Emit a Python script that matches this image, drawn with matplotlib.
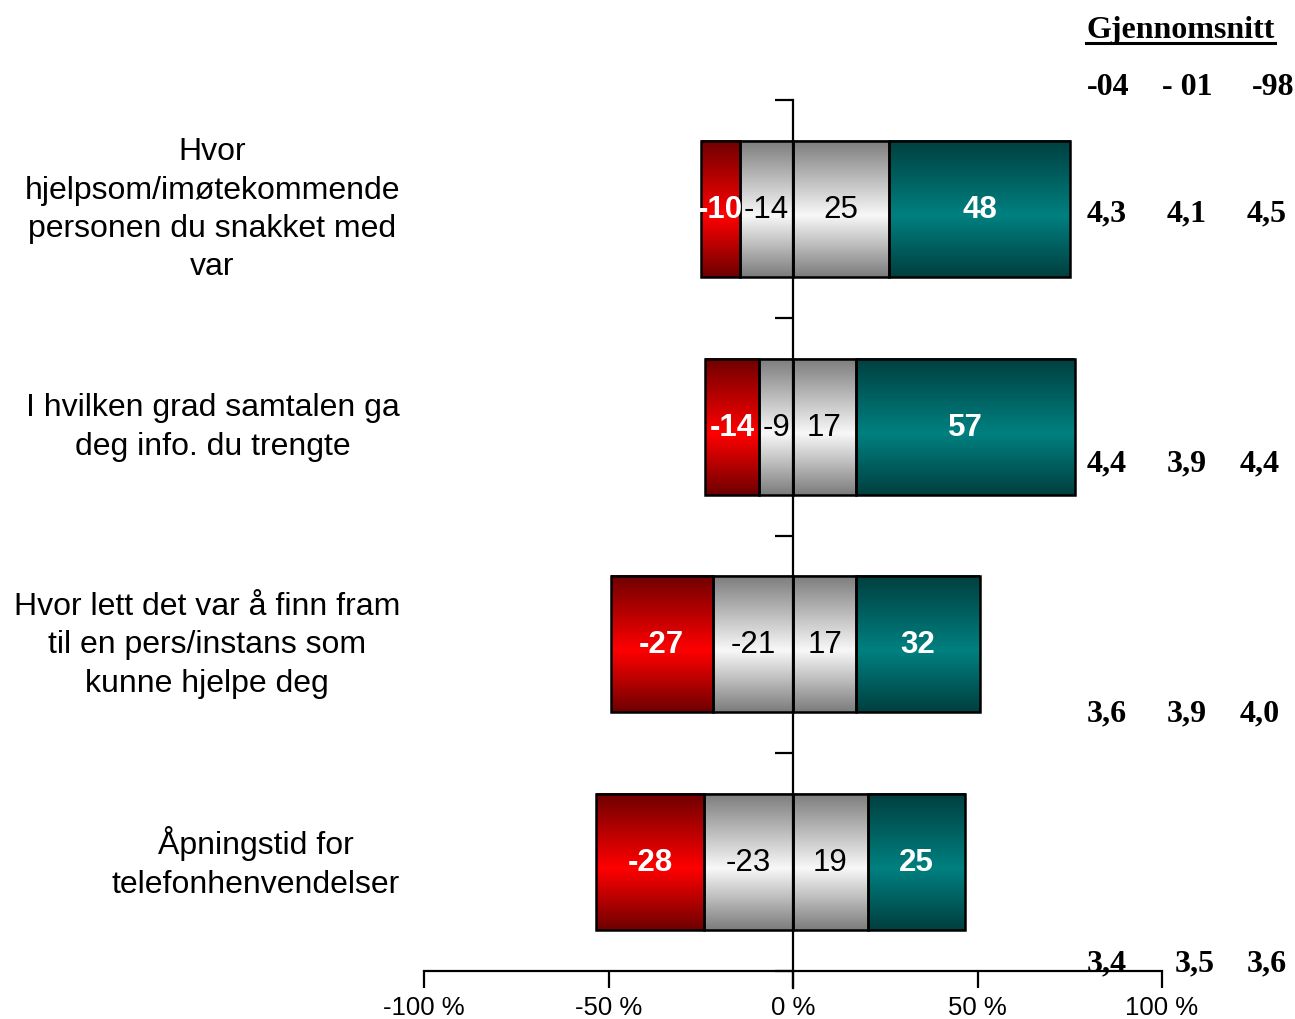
import numpy as np
import matplotlib.pyplot as plt
import matplotlib.transforms as mtransforms
from matplotlib.colors import LinearSegmentedColormap
from matplotlib.lines import Line2D


plt.rcParams["font.family"] = ["Liberation Sans", "DejaVu Sans"]

categories = [
    "Hvor\nhjelpsom/imøtekommende\npersonen du snakket med\nvar",
    "I hvilken grad samtalen ga\ndeg info. du trengte",
    "Hvor lett det var å finn fram\ntil en pers/instans som\nkunne hjelpe deg",
    "Åpningstid for\ntelefonhenvendelser",
]

# segment widths (%) as drawn
very_neg = [10.4, 14.6, 27.6, 29.3]
neg = [14.4, 9.2, 21.8, 24.0]
pos = [25.9, 17.1, 17.2, 20.2]
very_pos = [49.3, 59.3, 33.4, 26.5]

# printed labels
very_neg_lab = ["-10", "-14", "-27", "-28"]
neg_lab = ["-14", "-9", "-21", "-23"]
pos_lab = ["25", "17", "17", "19"]
very_pos_lab = ["48", "57", "32", "25"]

avg_years = ["-04", "- 01", "-98"]
avg_04 = ["4,3", "4,4", "3,6", "3,4"]
avg_01 = ["4,1", "3,9", "3,9", "3,5"]
avg_98 = ["4,5", "4,4", "4,0", "3,6"]

xticks = [-100, -50, 0, 50, 100]
xtick_labels = ["-100 %", "-50 %", "0 %", "50 %", "100 %"]


W, H = 1295, 1020
fig = plt.figure(figsize=(W / 100, H / 100), dpi=100)
ax = fig.add_axes([424 / W, 1 - 972 / H, 738 / W, 871 / H])

y = np.arange(len(categories))
bar_h = 0.625

very_neg = np.array(very_neg)
neg = np.array(neg)
pos = np.array(pos)
very_pos = np.array(very_pos)


def grad_cmap(dark, bright):
    return LinearSegmentedColormap.from_list(
        "g", [(0, dark), (0.55, bright), (1, dark)]
    )


segments = [
    (-(very_neg + neg), very_neg, grad_cmap("#6e0000", "#ff0000"),
     very_neg_lab, "white", "bold"),
    (-neg, neg, grad_cmap("#7c7c7c", "#f8f8f8"),
     neg_lab, "black", "normal"),
    (np.zeros(len(pos)), pos, grad_cmap("#7c7c7c", "#f8f8f8"),
     pos_lab, "black", "normal"),
    (pos, very_pos, grad_cmap("#003f3f", "#008080"),
     very_pos_lab, "white", "bold"),
]

grad = np.linspace(0, 1, 256).reshape(-1, 1)

for left, width, cmap, labels, tcolor, tweight in segments:
    bars = ax.barh(
        y, width, left=left, height=bar_h,
        color="none", edgecolor="black", linewidth=1.8, zorder=2
    )
    for rect in bars:
        x0 = rect.get_x()
        w = rect.get_width()
        y0 = rect.get_y()
        h = rect.get_height()
        ax.imshow(
            grad, cmap=cmap, aspect="auto", interpolation="bilinear",
            extent=(x0, x0 + w, y0 + h, y0), zorder=1
        )
    ax.bar_label(
        bars, labels=labels, label_type="center",
        color=tcolor, fontweight=tweight, fontsize=22.5, zorder=4
    )

ax.set_xlim(-100, 100)
ax.set_ylim(len(categories) - 0.5, -0.5)

# axes styling
ax.spines["top"].set_visible(False)
ax.spines["right"].set_visible(False)
ax.spines["left"].set_position(("data", 0))
ax.spines["left"].set_bounds(-0.5, len(categories) - 0.5 + 0.08)
ax.spines["left"].set_linewidth(1.6)
ax.spines["left"].set_zorder(3)
ax.spines["bottom"].set_linewidth(1.6)

ax.set_yticks(np.arange(-0.5, len(categories), 1.0))
ax.set_yticklabels([])
ax.tick_params(axis="y", direction="out", length=13, width=1.6)

ax.set_xticks(xticks)
ax.set_xticklabels(xtick_labels, fontsize=18.5)
ax.tick_params(axis="x", direction="out", length=12, width=1.6, pad=5)

# category labels to the left
trans = mtransforms.blended_transform_factory(fig.transFigure, ax.transData)
for yi, cat in zip(y, categories):
    ax.text(
        400 / W, yi, cat, transform=trans,
        ha="right", va="center", multialignment="center",
        fontsize=23, linespacing=1.36
    )

# averages on the right
serif = dict(family=["Liberation Serif", "DejaVu Serif"], fontweight="bold", fontsize=23)

fig.text(1181 / W, 1 - 38 / H, "Gjennomsnitt", ha="center", va="baseline", **serif)
fig.add_artist(Line2D([1086 / W, 1275 / W], [1 - 43.5 / H, 1 - 43.5 / H],
                      color="black", linewidth=2.2))

year_x = [1087, 1162, 1252]
for yx, lab in zip(year_x, avg_years):
    fig.text(yx / W, 1 - 95 / H, lab, ha="left", va="baseline", **serif)

row_base = [221, 471, 721, 971]
row_x = [[1087, 1167, 1247], [1087, 1167, 1240], [1087, 1167, 1240], [1087, 1175, 1247]]
for i, vals in enumerate(zip(avg_04, avg_01, avg_98)):
    for xx, v in zip(row_x[i], vals):
        fig.text(xx / W, 1 - row_base[i] / H, v, ha="left", va="baseline", **serif)

fig.savefig("out.png", dpi=100)
